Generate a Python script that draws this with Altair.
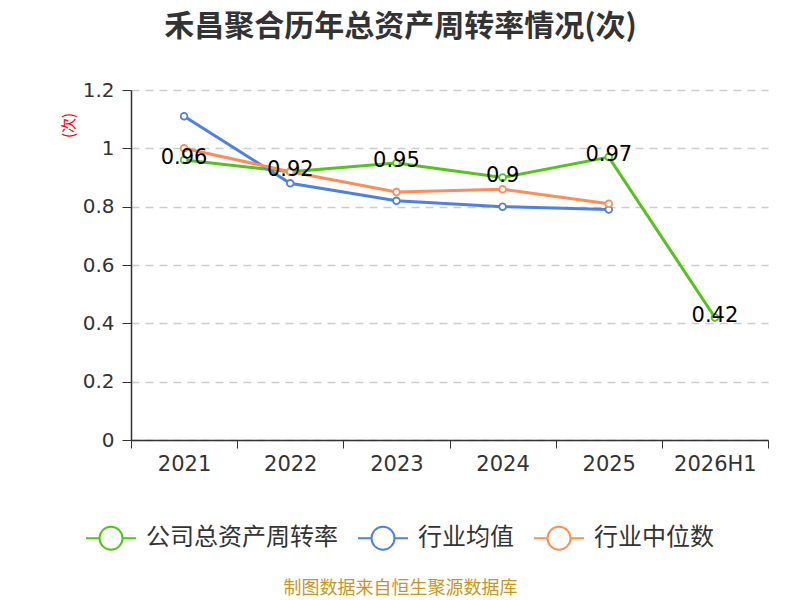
import altair as alt
import pandas as pd

# values
periods = ["2021", "2022", "2023", "2024", "2025", "2026H1"]
series_names = ["公司总资产周转率", "行业均值", "行业中位数"]
series_colors = ["#52c41a", "#4e80e3", "#ff8c57"]
company = [0.96, 0.92, 0.95, 0.90, 0.97, 0.42]
industry_avg = [1.11, 0.88, 0.82, 0.80, 0.79]
industry_median = [1.00, 0.92, 0.85, 0.86, 0.81]
y_ticks = [0, 0.2, 0.4, 0.6, 0.8, 1, 1.2]

rows = []
for order, (name, vals) in enumerate(zip(series_names, [company, industry_avg, industry_median])):
    for p, v in zip(periods, vals):
        rows.append({"period": p, "series": name, "value": v, "order": order})
df = pd.DataFrame(rows)

font = "Noto Sans CJK SC"
num_font = "DejaVu Sans"
# legend symbol: short line with an open circle in the middle
legend_shape = "M-1,0L-0.46,0M0.46,0L1,0M-0.46,0A0.46,0.46 0 1,1 0.46,0A0.46,0.46 0 1,1 -0.46,0"

x_enc = alt.X(
    "period:N",
    sort=periods,
    bandPosition=0.5,
    scale=alt.Scale(type="band", domain=periods, paddingInner=0, paddingOuter=0),
    axis=alt.Axis(
        title="制图数据来自恒生聚源数据库",
        titleColor="#c8961e",
        titleFontSize=18,
        titleFontWeight="normal",
        titleFont=font,
        titleX=269,
        titleY=139,
        labelAngle=0,
        labelFontSize=21,
        labelColor="#333333",
        labelFont=num_font,
        labelPadding=5,
        tickBand="extent",
        tickSize=8,
        tickColor="#333333",
        domainColor="#333333",
        domainWidth=1.5,
        grid=False,
    ),
)

y_enc = alt.Y(
    "value:Q",
    scale=alt.Scale(domain=[0, 1.2], nice=False),
    axis=alt.Axis(
        values=y_ticks,
        format="~g",
        title="(次)",
        titleColor="red",
        titleFontSize=15,
        titleFontWeight="normal",
        titleFont=font,
        titleX=-55,
        titleY=35,
        labelFontSize=20,
        labelColor="#333333",
        labelFont=num_font,
        labelPadding=8,
        tickSize=9,
        tickColor="#333333",
        domainColor="#333333",
        domainWidth=1.5,
        gridDash=[8, 6],
        gridColor="#cccccc",
        gridWidth=1.5,
    ),
)

color_enc = alt.Color(
    "series:N",
    sort=series_names,
    scale=alt.Scale(domain=series_names, range=series_colors),
    legend=alt.Legend(
        title=None,
        orient="none",
        direction="horizontal",
        legendX=-46,
        legendY=422,
        symbolType=legend_shape,
        symbolSize=2500,
        symbolStrokeWidth=2,
        symbolFillColor="transparent",
        labelFontSize=24,
        labelColor="#333333",
        labelFont=font,
        labelOffset=9,
        labelLimit=400,
        columnPadding=16,
    ),
)

base = alt.Chart(df)

lines = base.mark_line(strokeWidth=3).encode(
    x=x_enc, y=y_enc, color=color_enc, order="order:Q"
)

points = base.mark_point(filled=True, fill="white", size=45, strokeWidth=1.8, opacity=1).encode(
    x=x_enc, y=y_enc, stroke=alt.Stroke("series:N", scale=alt.Scale(domain=series_names, range=series_colors), legend=None)
)

labels = base.transform_filter(alt.datum.series == series_names[0]).mark_text(
    fontSize=21, font=num_font, color="black", dy=-2
).encode(x=x_enc, y=y_enc, text=alt.Text("value:Q", format="~g"))

chart = alt.layer(lines, points, labels).properties(
    width=637,
    height=350,
    autosize=alt.AutoSizeParams(type="none"),
    padding={"left": 123, "top": 82, "right": 24, "bottom": 160},
    title=alt.TitleParams(
        "禾昌聚合历年总资产周转率情况(次)",
        anchor="middle",
        dx=-49,
        offset=38,
        fontSize=30,
        fontWeight="bold",
        font=font,
        color="#333333",
    ),
).configure_view(stroke=None)

chart.save("out.html", embed_options={"renderer": "svg", "actions": False})
